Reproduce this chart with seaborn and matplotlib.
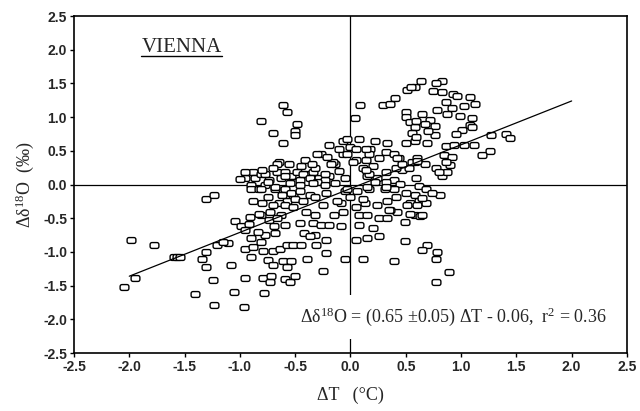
import numpy as np
import pandas as pd
import matplotlib
matplotlib.use("Agg")
import matplotlib.pyplot as plt
from matplotlib.path import Path
import seaborn as sns

# ---------------- data ----------------
points = [
    # far left
    (-2.05,-1.52),(-1.95,-1.38),(-1.98,-0.82),(-1.78,-0.90),(-1.60,-1.08),(-1.57,-1.08),(-1.54,-1.07),
    (-1.41,-1.63),(-1.34,-1.10),(-1.31,-1.22),(-1.31,-1.00),(-1.24,-1.42),(-1.23,-1.78),(-1.21,-0.90),
    (-1.31,-0.21),(-1.23,-0.15),
    # -1.15 .. -0.85
    (-1.11,-0.87),(-1.15,-0.85),(-1.08,-1.19),(-1.05,-1.60),(-1.04,-0.54),(-0.99,-0.62),(-0.96,-1.82),
    (-0.95,-1.38),(-0.95,-0.95),(-0.91,-0.48),(-0.90,-0.80),(-0.88,-0.92),(-0.90,-1.08),(-0.92,-0.58),
    (-0.95,-0.67),(-0.90,0.00),(-0.95,0.09),(-0.88,0.19),(-0.86,0.09),(-0.90,-0.06),(-0.88,-0.25),
    (-1.00,0.08),(-0.95,0.18),
    # -0.85 .. -0.5, negative
    (-0.81,-0.45),(-0.73,-0.41),(-0.63,-0.45),(-0.59,-0.60),(-0.68,-0.72),(-0.77,-0.75),(-0.81,-0.85),
    (-0.79,-0.98),(-0.70,-0.98),(-0.64,-0.95),(-0.75,-1.12),(-0.70,-1.19),(-0.61,-1.14),(-0.54,-1.13),
    (-0.57,-1.22),(-0.79,-1.38),(-0.72,-1.36),(-0.73,-1.44),(-0.59,-1.40),(-0.55,-1.44),(-0.50,-1.36),
    (-0.78,-1.61),(-0.57,-0.89),(-0.52,-0.89),(-0.45,-0.89),(-0.83,-0.43),(-0.74,-0.52),(-0.66,-0.49),
    (-0.84,-0.70),(-0.69,-0.62),(-0.83,-0.06),(-0.77,0.00),(-0.68,-0.06),(-0.59,-0.07),(-0.52,-0.15),
    (-0.57,-0.25),(-0.65,-0.28),(-0.81,-0.07),(-0.68,-0.03),(-0.54,-0.13),(-0.59,-0.30),(-0.52,-0.33),
    (-0.75,-0.18),(-0.70,-0.30),(-0.80,-0.28),(-0.62,-0.15),
    # -0.85 .. -0.4, positive
    (-0.61,1.18),(-0.57,1.07),(-0.81,0.94),(-0.48,0.90),(-0.70,0.76),(-0.50,0.79),(-0.50,0.73),
    (-0.61,0.61),(-0.65,0.34),(-0.56,0.31),(-0.81,0.16),(-0.66,0.19),(-0.59,0.19),(-0.74,0.07),
    (-0.63,0.09),(-0.54,0.12),(-0.77,0.15),(-0.66,0.31),(-0.75,0.04),(-0.59,0.12),(-0.48,0.19),
    (-0.48,0.04),(-0.41,0.37),(-0.41,0.15),(-0.70,0.25),(-0.80,0.22),(-0.55,0.02),(-0.45,0.28),
    # -0.5 .. 0, positive
    (-0.46,0.07),(-0.43,0.16),(-0.34,0.19),(-0.37,0.09),(-0.28,0.09),(-0.19,0.12),(-0.14,0.30),
    (-0.16,0.34),(-0.07,0.46),(0.00,0.56),(-0.03,0.46),(-0.19,0.59),(-0.07,0.64),(-0.03,0.68),
    (-0.27,0.46),(-0.10,0.52),(-0.18,0.31),(-0.32,0.24),(-0.23,0.07),(-0.30,0.46),(-0.21,0.41),
    (-0.30,0.04),(-0.23,0.15),(-0.46,0.00),(-0.34,0.02),(-0.23,0.00),(-0.14,0.02),(-0.10,0.20),
    (-0.05,0.10),(-0.35,0.30),
    # -0.5 .. 0, negative
    (-0.46,-0.10),(-0.37,-0.15),(-0.50,-0.22),(-0.43,-0.25),(-0.32,-0.18),(-0.22,-0.13),(-0.05,-0.10),
    (0.00,-0.18),(-0.25,-0.30),(-0.09,-0.28),(-0.07,-0.40),(-0.32,-0.45),(-0.46,-0.57),(-0.34,-0.57),
    (-0.27,-0.60),(-0.19,-0.60),(-0.09,-0.62),(-0.32,-0.75),(-0.22,-0.82),(-0.31,-0.89),(-0.42,-0.72),
    (-0.37,-0.77),(-0.39,-1.10),(-0.22,-1.02),(-0.05,-1.10),(-0.25,-1.29),(-0.12,-0.25),(-0.03,-0.06),
    (-0.15,-0.45),(-0.40,-0.40),
    # 0 .. 0.6, positive
    (0.09,1.18),(0.04,0.98),(0.29,1.18),(0.36,1.20),(0.40,1.28),(0.51,1.40),(0.58,1.45),(0.50,1.08),
    (0.50,1.00),(0.54,0.93),(0.58,0.86),(0.56,0.76),(0.08,0.67),(0.22,0.64),(0.33,0.61),(0.50,0.61),
    (0.58,0.64),(0.05,0.52),(0.18,0.52),(0.32,0.49),(0.39,0.46),(0.44,0.39),(0.05,0.37),(0.14,0.37),
    (0.26,0.39),(0.58,0.34),(0.11,0.24),(0.20,0.27),(0.47,0.22),(0.53,0.24),(0.15,0.12),(0.24,0.09),
    (0.39,0.07),(0.32,0.04),(0.02,0.34),(0.17,0.15),(0.14,0.22),(0.22,0.04),(0.32,0.19),(0.41,0.24),
    (0.47,0.31),(0.56,0.34),(0.60,0.39),(0.59,0.09),(0.45,0.01),(0.42,0.39),(0.17,0.46),(0.14,0.52),
    # 0 .. 0.6, negative
    (0.06,-0.10),(0.17,-0.06),(0.31,-0.07),(0.39,-0.06),(0.50,-0.13),(0.58,-0.15),(0.62,-0.25),
    (0.54,-0.28),(0.33,-0.25),(0.24,-0.30),(0.42,-0.40),(0.58,-0.45),(0.13,-0.28),(0.11,-0.21),
    (0.05,-0.33),(0.08,-0.45),(0.15,-0.45),(0.26,-0.50),(0.36,-0.38),(0.33,-0.50),(0.49,-0.55),
    (0.08,-0.60),(0.20,-0.65),(0.05,-0.82),(0.15,-0.80),(0.26,-0.77),(0.49,-0.84),(0.11,-1.10),
    (0.39,-1.13),(0.15,-0.03),(0.32,-0.03),(0.41,-0.18),(0.54,-0.43),(0.63,-0.47),(0.51,-0.30),
    (0.60,-0.30),(0.68,-0.28),(0.35,-0.38),
    # > 0.6
    (0.64,1.54),(0.83,1.54),(0.77,1.50),(0.55,1.44),(0.75,1.39),(0.83,1.37),(0.93,1.35),(0.96,1.32),
    (1.08,1.30),(0.86,1.23),(1.13,1.20),(1.03,1.16),(0.92,1.14),(0.78,1.10),(1.10,0.98),(0.99,1.01),
    (0.72,0.96),(0.87,1.04),(0.59,0.95),(0.67,0.90),(0.76,0.87),(1.08,0.89),(1.01,0.81),(0.76,0.74),
    (0.59,0.70),(1.27,0.73),(1.41,0.75),(1.44,0.69),(0.69,0.61),(0.86,0.57),(0.94,0.59),(1.03,0.58),
    (1.26,0.50),(1.19,0.44),(0.85,0.44),(0.90,0.29),(0.83,0.17),(0.92,0.41),(0.77,0.24),(0.67,0.30),
    (0.60,0.35),(0.83,0.12),(0.87,0.19),(0.80,0.19),(0.86,0.34),(1.12,0.59),(1.10,0.86),(0.62,-0.02),
    (0.68,-0.06),(0.81,-0.15),(0.74,-0.13),(0.65,-0.20),(0.65,-0.45),(0.69,-0.89),(0.65,-0.97),
    (0.78,-1.00),(0.77,-1.10),(0.89,-1.30),(0.77,-1.44),(0.70,0.80),(0.95,0.75),(0.65,1.05),
]
delta_T = [p[0] for p in points]
delta_d18O = [p[1] for p in points]

slope = 0.65
slope_err = 0.05
intercept = -0.06
r_squared = 0.36
fit_range = [-2.0, 2.0]

ticks = [-2.5, -2.0, -1.5, -1.0, -0.5, 0.0, 0.5, 1.0, 1.5, 2.0, 2.5]
station = "VIENNA"

# ---------------- style ----------------
sns.set_style("ticks")
plt.rcParams["font.family"] = ["Liberation Serif", "DejaVu Serif"]
plt.rcParams["axes.unicode_minus"] = False
plt.rcParams["mathtext.fontset"] = "custom"
plt.rcParams["mathtext.rm"] = "Liberation Serif"
plt.rcParams["mathtext.it"] = "Liberation Serif:italic"
plt.rcParams["mathtext.bf"] = "Liberation Serif:bold"

fig = plt.figure(figsize=(6.4, 4.11), dpi=100)
ax = fig.add_axes([0.1156, 0.141, 0.864, 0.82])

# rounded-rectangle marker shape
def rounded_rect(w=1.5, h=1.0, r=0.32, n=6):
    verts = []
    cx, cy = w / 2 - r, h / 2 - r
    for (sx, sy, a0) in [(1, 1, 0), (-1, 1, 90), (-1, -1, 180), (1, -1, 270)]:
        for a in np.linspace(a0, a0 + 90, n):
            tt = np.deg2rad(a)
            verts.append((sx * cx + r * np.cos(tt), sy * cy + r * np.sin(tt)))
    verts.append(verts[0])
    return Path(verts, closed=True)

marker = rounded_rect()

ax.axhline(0, color="black", lw=0.9, zorder=1)
ax.axvline(0, color="black", lw=0.9, zorder=1)

df = pd.DataFrame({"dT": delta_T, "d18O": delta_d18O})
sns.scatterplot(data=df, x="dT", y="d18O", ax=ax, marker=marker, s=40,
                color="white", edgecolor="black", linewidth=1.0, zorder=2)

fx = np.array(fit_range)
ax.plot(fx, slope * fx + intercept, color="black", lw=0.9, zorder=3)

ax.set_xlim(ticks[0], ticks[-1])
ax.set_ylim(ticks[0], ticks[-1])
ax.set_xticks(ticks)
ax.set_yticks(ticks)
ax.set_xticklabels([f"{t:.1f}" for t in ticks])
ax.set_yticklabels([f"{t:.1f}" for t in ticks])
for lab in ax.get_xticklabels() + ax.get_yticklabels():
    lab.set_family(["Liberation Sans", "DejaVu Sans"])
    lab.set_fontweight("bold")
    lab.set_fontsize(10)
ax.tick_params(direction="out", length=3, width=1, color="black", pad=2)
for sp in ax.spines.values():
    sp.set_visible(True)
    sp.set_color("black")
    sp.set_linewidth(1.2)

ax.set_xlabel("ΔT   (°C)", fontsize=13, labelpad=9)
ax.set_ylabel("Δδ$^{18}$O  (‰)", fontsize=13, labelpad=5)

eq = (f"Δδ$^{{18}}$O = ({slope:.2f} ±{slope_err:.2f}) ΔT - {abs(intercept):.2f},  "
      f"r$^{{2}}$ = {r_squared:.2f}")
ax.text(2.32, -1.96, eq, ha="right", va="center", fontsize=13, zorder=4,
        bbox=dict(boxstyle="square,pad=0.6", facecolor="white", edgecolor="none"))

t = ax.text(-1.89, 2.03, station, ha="left", va="center", fontsize=15, zorder=4)
fig.canvas.draw()
bb = t.get_window_extent().transformed(ax.transData.inverted())
ax.plot([bb.x0, bb.x1], [bb.y0 + 0.02, bb.y0 + 0.02], color="black", lw=1.0, zorder=4)

fig.savefig("out.png", dpi=100)
